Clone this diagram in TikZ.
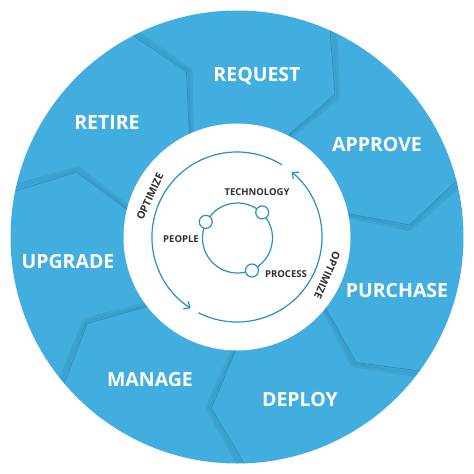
\documentclass[tikz,border=0pt]{standalone}
\usepackage{fontspec}
\setmainfont{Open Sans}
\usetikzlibrary{arrows.meta}

\definecolor{ringblue}{HTML}{42AEDF}
\definecolor{seamblue}{HTML}{2C8CC0}
\definecolor{arcblue}{HTML}{2A8FC9}
\definecolor{labelgray}{HTML}{2E2E2E}

\begin{document}
\begin{tikzpicture}[x=1pt, y=1pt,
    stage/.style={text=white, font=\fontsize{19.5}{20}\selectfont\bfseries},
    core/.style={text=labelgray, font=\fontsize{9.5}{10}\selectfont\bfseries},
    seam/.style={seamblue, line width=0.7pt, line join=round},
    seamshade/.style={black, opacity=0.06, line width=4pt, line join=round},
    cycle/.style={arcblue, line width=1.2pt},
    hub/.style={circle, draw=arcblue, line width=1.2pt, fill=white, minimum size=13pt, inner sep=0pt}
  ]
  \useasboundingbox (-237,-237) rectangle (237,237);
  \fill[ringblue] (0,0) circle (226.5);
  % seams between the stages
  \begin{scope}
    \clip (0,0) circle (226.5);
    \foreach \b in {118, 66.5, 15, -35.5, -87.5, -139, 169} {
      \draw[seamshade, rotate=-1.4] (\b:100) -- (\b-11:173) -- (\b+1:240);
      \draw[seamshade, line width=2pt, rotate=-0.6] (\b:100) -- (\b-11:173) -- (\b+1:240);
      \draw[seam] (\b:100) -- (\b-11:173) -- (\b+1:240);
    }
  \end{scope}
  \fill[white] (0,0) circle (113.5);

  % stages
  \node[stage] (request) at (20,161) {REQUEST};
  \node[stage] (approve) at (140,92) {APPROVE};
  \node[stage] (purchase) at (160,-54) {PURCHASE};
  \node[stage] (deploy) at (63,-163) {DEPLOY};
  \node[stage] (manage) at (-87,-143) {MANAGE};
  \node[stage] (upgrade) at (-169,-25) {UPGRADE};
  \node[stage] (retire) at (-130,114) {RETIRE};

  % optimize cycle
  \draw[cycle, -{Straight Barb[length=5pt, width=9pt]}] (58:85) arc[start angle=58, end angle=237, radius=85];
  \draw[cycle, -{Straight Barb[length=5pt, width=9pt]}] (243:85) arc[start angle=243, end angle=410, radius=85];
  \node[core, font=\fontsize{10.5}{11}\selectfont\bfseries, rotate=65] (optleft) at (155:96) {OPTIMIZE};
  \node[core, font=\fontsize{10.5}{11}\selectfont\bfseries, rotate=-114] (optright) at (-23:98) {OPTIMIZE};

  % people, process, technology
  \node[circle, draw=arcblue, line width=1.2pt, minimum size=70pt, inner sep=0pt] (loop) at (0.5,-1) {};
  \node[hub] (people) at (loop.153) {};
  \node[hub] (technology) at (loop.46) {};
  \node[hub] (process) at (loop.-66) {};
  \node[core] (peoplelabel) at (-56,-2) {PEOPLE};
  \node[core] (technologylabel) at (20,45) {TECHNOLOGY};
  \node[core] (processlabel) at (49,-37) {PROCESS};
\end{tikzpicture}
\end{document}
